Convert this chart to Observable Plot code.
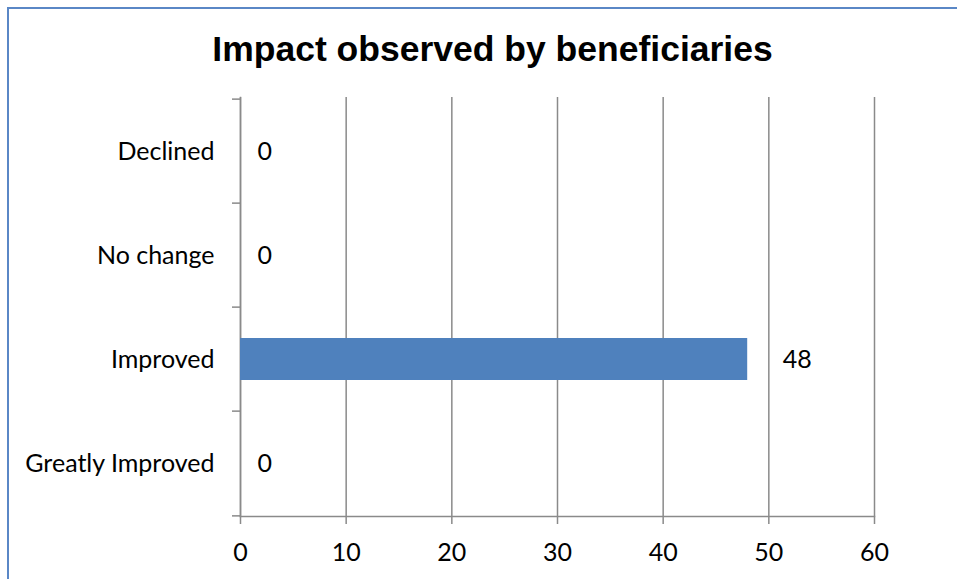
<!DOCTYPE html>
<html>
<head>
<meta charset="utf-8">
<script src="https://cdn.jsdelivr.net/npm/d3@7"></script>
<script src="https://cdn.jsdelivr.net/npm/@observablehq/plot@0.6"></script>
<style>
  html, body { margin: 0; padding: 0; background: #fff; }
  body { width: 957px; height: 579px; overflow: hidden; position: relative; }
  #border {
    position: absolute; left: 7px; top: 7px; width: 2000px; height: 2000px;
    border-left: 2px solid #5a87c6; border-top: 2px solid #5a87c6;
  }
  #title {
    position: absolute; left: 0; top: 31px; width: 985px; text-align: center;
    font-family: "Liberation Sans", Arial, sans-serif; font-weight: bold;
    font-size: 35.5px; line-height: 36px; color: #000;
  }
  #chart { position: absolute; left: 0; top: 90px; }
</style>
</head>
<body>
<div id="border"></div>
<div id="title">Impact observed by beneficiaries</div>
<div id="chart"></div>
<script>
// Responses per impact level
const categories = ["Declined", "No change", "Improved", "Greatly Improved"];
const counts = [0, 0, 48, 0];
const xTicks = [0, 10, 20, 30, 40, 50, 60];

const rows = categories.map((category, i) => ({category, count: counts[i]}));

const width = 957, height = 489;
const marginTop = 7, marginBottom = 63, marginLeft = 240, marginRight = 83;
const paddingInner = 0.6, paddingOuter = 0.3;
const step = (height - marginTop - marginBottom) /
  (categories.length - paddingInner + 2 * paddingOuter);

const gray = "#8a8a8a";
const font = "Lato, 'Open Sans', sans-serif";
const fs = 25;

const chart = Plot.plot({
  width, height, marginTop, marginBottom, marginLeft, marginRight,
  style: {fontFamily: font, fontSize: fs + "px", color: "#000", background: "transparent"},
  x: {domain: [0, 60], label: null},
  y: {domain: categories, paddingInner, paddingOuter, label: null},
  marks: [
    Plot.gridX(xTicks, {stroke: gray, strokeOpacity: 1, strokeWidth: 1.5}),
    Plot.frame({anchor: "left", stroke: gray, strokeWidth: 1.5}),
    Plot.frame({anchor: "bottom", stroke: gray, strokeWidth: 1.5}),
    // tick marks sit on the band boundaries
    Plot.axisY({ticks: categories, tickSize: 8, dy: -step / 2, tickFormat: () => "",
      stroke: gray, strokeWidth: 1.5, label: null}),
    Plot.axisY({ticks: categories.slice(-1), tickSize: 8, dy: step / 2, tickFormat: () => "",
      stroke: gray, strokeWidth: 1.5, label: null}),
    Plot.axisY({tickSize: 0, tickPadding: 26, fontSize: fs, fill: "#000", label: null}),
    Plot.axisX({ticks: xTicks, tickSize: 8, tickPadding: 19, fontSize: fs, fill: "#000",
      stroke: gray, strokeWidth: 1.5, label: null}),
    Plot.barX(rows, {x: "count", y: "category", fill: "#4f81bd"}),
    Plot.text(rows.filter(d => d.count === 0), {x: "count", y: "category", text: d => String(d.count),
      textAnchor: "start", dx: 17, fontSize: fs, fill: "#000"}),
    Plot.text(rows.filter(d => d.count > 0), {x: "count", y: "category", text: d => String(d.count),
      textAnchor: "start", dx: 35, fontSize: fs, fill: "#000"})
  ]
});
document.getElementById("chart").appendChild(chart);
</script>
</body>
</html>
